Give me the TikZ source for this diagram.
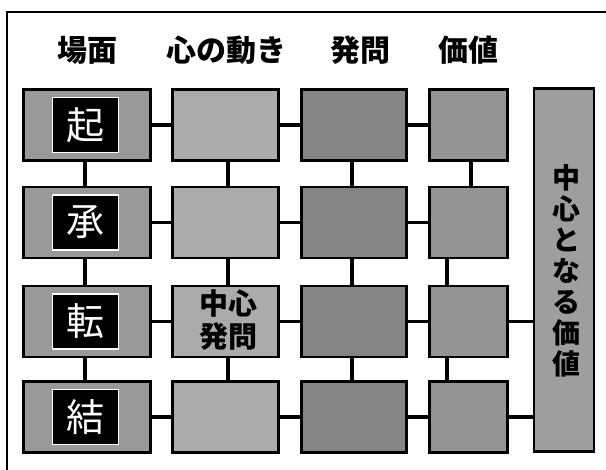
\documentclass[tikz,border=0pt]{standalone}
\usepackage{fontspec}
\newfontfamily\jp{Noto Sans CJK JP}
\definecolor{cA}{gray}{0.60}
\definecolor{cB}{gray}{0.67}
\definecolor{cC}{gray}{0.52}
\definecolor{cD}{gray}{0.58}
\definecolor{cE}{gray}{0.62}
\begin{document}
\begin{tikzpicture}[x=1pt,y=-1pt,
  cell/.style={draw=black,line width=2.6pt,inner sep=0pt},
  conn/.style={line width=3.6pt,draw=black},
  head/.style={font=\jp\bfseries\fontsize{30}{30}\selectfont,inner sep=0pt},
  kanji/.style={fill=black,draw=white,line width=1.4pt,text=white,inner sep=0pt,
    minimum width=66pt,minimum height=55pt,font=\jp\fontsize{38}{38}\selectfont},
  cw1/.style={minimum width=127pt,minimum height=71pt,fill=cA},
  cw2/.style={minimum width=106pt,minimum height=71pt,fill=cB},
  cw3/.style={minimum width=105pt,minimum height=71pt,fill=cC},
  cw4/.style={minimum width=78pt,minimum height=71pt,fill=cD}]
\clip (0,0) rectangle (606,470);
\fill[white] (0,0) rectangle (606,470);
% outer frame (only top and left visible)
\coordinate (fbl) at (7,490);
\coordinate (ftl) at (7,12);
\coordinate (ftr) at (630,12);
\draw[line width=2.4pt] (fbl) -- (ftl) -- (ftr);
% headers
\node[head] (h1) at (87,50) {場面};
\node[head] (h2) at (226,50) {心の動き};
\node[head] (h3) at (360,50) {発問};
\node[head] (h4) at (468,50) {価値};
% rows
\foreach \r/\y in {1/125,2/222.5,3/321.5,4/417}{
  \node[cell,cw1] (a\r) at (87,\y) {};
  \node[cell,cw2] (b\r) at (225.5,\y) {};
  \node[cell,cw3] (c\r) at (354,\y) {};
  \node[cell,cw4] (d\r) at (468.5,\y) {};
}
% tall box
\node[cell,fill=cE,minimum width=60pt,minimum height=363pt] (e) at (564,270) {};
% horizontal connectors
\foreach \r in {1,2,3,4}{
  \draw[conn] (a\r.east) -- (b\r.west);
  \draw[conn] (b\r.east) -- (c\r.west);
  \draw[conn] (c\r.east) -- (d\r.west);
}
\draw[conn] (d3.east) -- (d3.east -| e.west);
\draw[conn] (d4.east) -- (d4.east -| e.west);
% vertical connectors
\foreach \r/\s in {1/2,2/3,3/4}{
  \draw[conn] ([xshift=-2pt]a\r.south) -- ([xshift=-2pt]a\s.north);
  \draw[conn] ([xshift=2.5pt]b\r.south) -- ([xshift=2.5pt]b\s.north);
  \draw[conn] ([xshift=-2pt]c\r.south) -- ([xshift=-2pt]c\s.north);
}
\draw[conn] ([xshift=2.5pt]d1.south) -- ([xshift=2.5pt]d2.north);
\draw[conn] ([xshift=-21.5pt]d2.south) -- ([xshift=-21.5pt]d3.north);
\draw[conn] ([xshift=-21.5pt]d3.south) -- ([xshift=-21.5pt]d4.north);
% kanji boxes
\node[kanji] (k1) at (85.5,125) {起};
\node[kanji] (k2) at (85.5,222.5) {承};
\node[kanji] (k3) at (85.5,321.5) {転};
\node[kanji] (k4) at (85.5,417) {結};
% texts
\node[font=\jp\bfseries\fontsize{29}{33}\selectfont,align=center,inner sep=0pt] (t1) at (228,320) {中心\\発問};
\node[font=\jp\bfseries\fontsize{28}{31}\selectfont,align=center,inner sep=0pt] (t2) at (566,271) {中\\心\\と\\な\\る\\価\\値};
\end{tikzpicture}
\end{document}
